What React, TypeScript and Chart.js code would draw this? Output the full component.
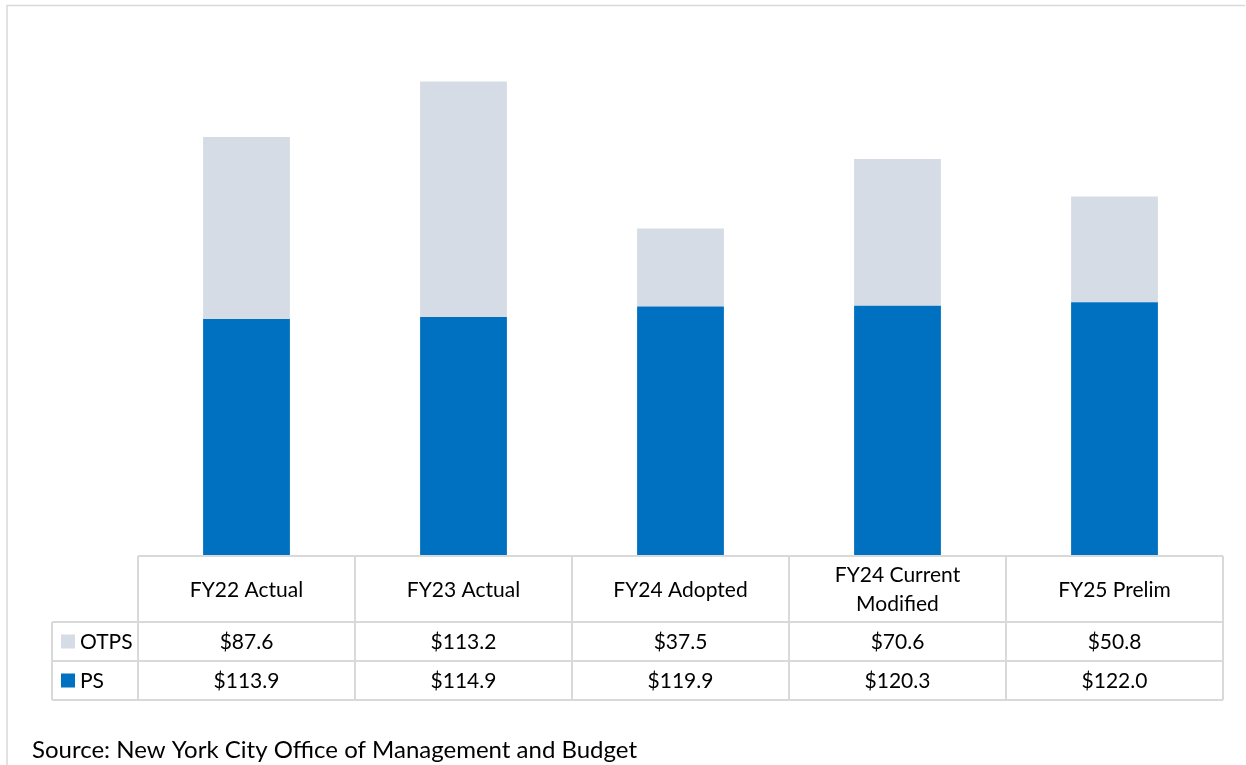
import React, { useEffect, useRef } from "react";
import { Chart, registerables } from "chart.js";

Chart.register(...registerables);

const categories: (string | string[])[] = [
  "FY22 Actual",
  "FY23 Actual",
  "FY24 Adopted",
  ["FY24 Current", "Modified"],
  "FY25 Prelim",
];
const otpsValues = [87.6, 113.2, 37.5, 70.6, 50.8];
const psValues = [113.9, 114.9, 119.9, 120.3, 122.0];
const seriesNames = ["OTPS", "PS"];
const sourceText = "Source: New York City Office of Management and Budget";

const PS_COLOR = "#0070C0";
const OTPS_COLOR = "#D6DCE5";
const GRID = "#D9D9D9";
const FONT = "Lato, 'Open Sans', sans-serif";

const tablePlugin = {
  id: "dataTable",
  afterDraw(chart: any) {
    const ctx = chart.ctx as CanvasRenderingContext2D;
    const xs = chart.scales.x;
    const area = chart.chartArea;
    const n = categories.length;
    const colW = (area.right - area.left) / n;
    const top = area.bottom;
    const headerBottom = top + 66;
    const row1Bottom = headerBottom + 39;
    const row2Bottom = row1Bottom + 39;
    const legendLeft = 52;

    ctx.save();
    // outer frame
    ctx.strokeStyle = GRID;
    ctx.lineWidth = 1.5;
    ctx.beginPath();
    ctx.moveTo(7, 800);
    ctx.lineTo(7, 5.5);
    ctx.lineTo(1245, 5.5);
    ctx.stroke();

    // table grid
    ctx.strokeStyle = GRID;
    ctx.lineWidth = 2;
    ctx.beginPath();
    ctx.moveTo(area.left, top);
    ctx.lineTo(area.right, top);
    ctx.moveTo(legendLeft, headerBottom);
    ctx.lineTo(area.right, headerBottom);
    ctx.moveTo(legendLeft, row1Bottom);
    ctx.lineTo(area.right, row1Bottom);
    ctx.moveTo(legendLeft, row2Bottom);
    ctx.lineTo(area.right, row2Bottom);
    ctx.moveTo(legendLeft, headerBottom);
    ctx.lineTo(legendLeft, row2Bottom);
    for (let i = 0; i <= n; i++) {
      const x = area.left + i * colW;
      ctx.moveTo(x, top);
      ctx.lineTo(x, row2Bottom);
    }
    ctx.stroke();

    // header labels
    ctx.fillStyle = "#000";
    ctx.font = `21px ${FONT}`;
    ctx.textAlign = "center";
    ctx.textBaseline = "middle";
    categories.forEach((c, i) => {
      const cx = xs.getPixelForValue(i);
      const lines = Array.isArray(c) ? c : [c];
      const mid = (top + headerBottom) / 2 + 1;
      const lh = 29;
      lines.forEach((l, j) => {
        ctx.fillText(l, cx, mid + (j - (lines.length - 1) / 2) * lh);
      });
    });

    // rows
    const rows = [
      { name: seriesNames[0], color: OTPS_COLOR, vals: otpsValues, y0: headerBottom, y1: row1Bottom },
      { name: seriesNames[1], color: PS_COLOR, vals: psValues, y0: row1Bottom, y1: row2Bottom },
    ];
    rows.forEach((r) => {
      const my = (r.y0 + r.y1) / 2;
      ctx.fillStyle = r.color;
      ctx.fillRect(legendLeft + 9, my - 7, 14, 14);
      ctx.fillStyle = "#000";
      ctx.textAlign = "left";
      ctx.fillText(r.name, legendLeft + 28, my + 1);
      ctx.textAlign = "center";
      r.vals.forEach((v, i) => {
        ctx.fillText(`$${v.toFixed(1)}`, xs.getPixelForValue(i), my + 1);
      });
    });

    // source
    ctx.textAlign = "left";
    ctx.textBaseline = "alphabetic";
    ctx.font = `24px ${FONT}`;
    ctx.fillText(sourceText, 32, 758);
    ctx.restore();
  },
};

export default function App() {
  const ref = useRef<HTMLCanvasElement | null>(null);
  useEffect(() => {
    if (!ref.current) return;
    const chart = new Chart(ref.current, {
      type: "bar",
      data: {
        labels: categories as any,
        datasets: [
          { label: seriesNames[1], data: psValues, backgroundColor: PS_COLOR, stack: "s" },
          { label: seriesNames[0], data: otpsValues, backgroundColor: OTPS_COLOR, stack: "s" },
        ],
      },
      options: {
        animation: false,
        responsive: false,
        maintainAspectRatio: false,
        layout: { padding: { left: 138, right: 23, top: 36, bottom: 209 } },
        datasets: { bar: { categoryPercentage: 1, barPercentage: 0.4 } } as any,
        scales: {
          x: { display: false, stacked: true },
          y: { display: false, stacked: true, min: 0, max: 250 },
        },
        plugins: { legend: { display: false }, tooltip: { enabled: false }, title: { display: false } },
      },
      plugins: [tablePlugin],
    });
    return () => chart.destroy();
  }, []);
  return (
    <div style={{ position: "absolute", left: 0, top: 0, width: 1246, height: 765, background: "#fff" }}>
      <canvas ref={ref} width={1246} height={765} style={{ display: "block" }} />
    </div>
  );
}
